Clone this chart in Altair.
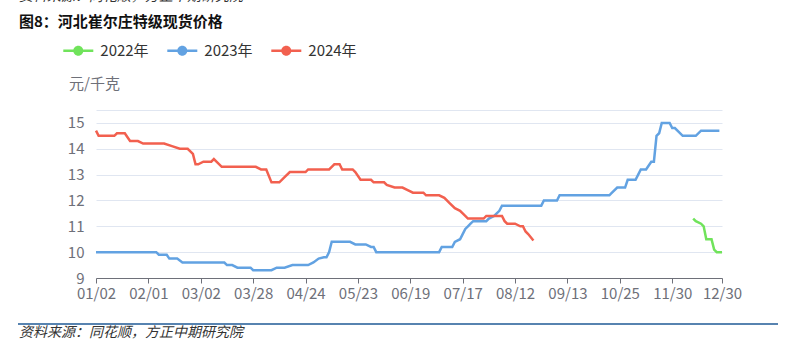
import altair as alt
import pandas as pd

font = "Noto Sans CJK SC"
axis_color = "#6E7079"

title_text = "图8：河北崔尔庄特级现货价格"
source_text = "资料来源：同花顺，方正中期研究院"
unit_text = "元/千克"

series_names = ["2022年", "2023年", "2024年"]
series_colors = ["#70E35B", "#62A2E2", "#F2604F"]

x_labels = ["01/02", "02/01", "03/02", "03/28", "04/24", "05/23", "06/19",
            "07/17", "08/12", "09/13", "10/25", "11/30", "12/30"]
x_label_pos = [0, 20, 40, 60, 80, 100, 120, 140, 160, 180, 200, 220, 239]
y_ticks = [9, 10, 11, 12, 13, 14, 15]
y_min, y_max = 9, 15.5

# [trading-day index, price]
s2022 = [[228, 11.3], [229, 11.2], [231, 11.1], [232, 11.0], [233, 10.5],
         [235, 10.5], [236, 10.1], [237, 10.0], [239, 10.0]]

s2023 = [[0, 10.0], [23, 10.0], [24, 9.9], [27, 9.9], [28, 9.75], [31, 9.75],
         [33, 9.6], [49, 9.6], [50, 9.5], [52, 9.5], [54, 9.4], [59, 9.4],
         [60, 9.3], [67, 9.3], [69, 9.4], [72, 9.4], [75, 9.5], [81, 9.5],
         [83, 9.6], [85, 9.75], [87, 9.8], [88, 9.8], [89, 10.0], [90, 10.4],
         [97, 10.4], [99, 10.3], [103, 10.3], [105, 10.2], [106, 10.2],
         [107, 10.0], [131, 10.0], [132, 10.2], [136, 10.2], [137, 10.4],
         [139, 10.5], [140, 10.7], [141, 10.9], [142, 11.0], [143, 11.1],
         [144, 11.2], [149, 11.2], [150, 11.3], [152, 11.4], [153, 11.5],
         [154, 11.6], [155, 11.8], [170, 11.8], [171, 12.0], [176, 12.0],
         [177, 12.2], [196, 12.2], [197, 12.3], [199, 12.5], [202, 12.5],
         [203, 12.8], [206, 12.8], [207, 13.0], [208, 13.2], [210, 13.2],
         [212, 13.5], [213, 13.5], [214, 14.5], [215, 14.6], [216, 15.0],
         [219, 15.0], [220, 14.8], [221, 14.8], [224, 14.5], [229, 14.5],
         [231, 14.7], [238, 14.7]]

s2024 = [[0, 14.7], [1, 14.5], [7, 14.5], [8, 14.6], [11, 14.6], [13, 14.3],
         [16, 14.3], [18, 14.2], [26, 14.2], [29, 14.1], [32, 14.0], [35, 14.0],
         [37, 13.8], [38, 13.4], [39, 13.4], [41, 13.5], [44, 13.5], [45, 13.6],
         [46, 13.5], [48, 13.3], [61, 13.3], [63, 13.2], [65, 13.2], [67, 12.7],
         [70, 12.7], [72, 12.9], [74, 13.1], [80, 13.1], [81, 13.2], [89, 13.2],
         [90, 13.3], [91, 13.4], [93, 13.4], [94, 13.2], [98, 13.2], [99, 13.1],
         [101, 12.8], [105, 12.8], [106, 12.7], [110, 12.7], [111, 12.6],
         [114, 12.5], [117, 12.5], [119, 12.4], [121, 12.3], [125, 12.3],
         [126, 12.2], [131, 12.2], [133, 12.1], [135, 11.9], [137, 11.7],
         [139, 11.6], [140, 11.5], [142, 11.3], [148, 11.3], [149, 11.4],
         [155, 11.4], [156, 11.2], [157, 11.1], [160, 11.1], [162, 11.0],
         [163, 11.0], [164, 10.8], [165, 10.7], [167, 10.45]]

rows = []
for name, pts in zip(series_names, [s2022, s2023, s2024]):
    for i, v in pts:
        rows.append({"series": name, "idx": i, "price": v})
df = pd.DataFrame(rows)

label_expr = ("[" + ",".join("'%s'" % l for l in x_labels) + "]"
              + "[indexof(" + str(x_label_pos) + ", datum.value)]")

color_scale = alt.Scale(domain=series_names, range=series_colors)

x_enc = alt.X("idx:Q",
              scale=alt.Scale(domain=[0, 239], nice=False, zero=False),
              axis=alt.Axis(values=x_label_pos, labelExpr=label_expr, title=None,
                            grid=False, ticks=True, tickSize=5, tickColor=axis_color,
                            domainColor=axis_color, labelColor=axis_color,
                            labelFontSize=15, labelPadding=3, labelFont=font,
                            labelFlush=False, labelOverlap=False, zindex=1))
y_enc = alt.Y("price:Q",
              scale=alt.Scale(domain=[y_min, y_max], nice=False, zero=False),
              axis=alt.Axis(values=y_ticks + [y_max],
                            labelExpr="datum.value > 15 ? '' : datum.label",
                            title=None, grid=True, gridColor="#E0E6F1",
                            domain=False, ticks=False, tickSize=0, labelPadding=12,
                            labelFontSize=15, labelColor=axis_color, labelFont=font))

sym_path = ("M-1.5,-0.12 L-0.47,-0.12 L-0.47,0.12 L-1.5,0.12 Z "
            "M0.47,-0.12 L1.5,-0.12 L1.5,0.12 L0.47,0.12 Z "
            "M0.5,0 A0.5,0.5 0 1,1 -0.5,0 A0.5,0.5 0 1,1 0.5,0 Z")

legend_layer = alt.Chart(df).transform_filter("false").mark_point(
    filled=True, opacity=1).encode(
    x=x_enc, y=y_enc,
    color=alt.Color("series:N", scale=color_scale,
                    legend=alt.Legend(title=None, orient="none", legendX=-27.7,
                                      legendY=-69.3, direction="horizontal",
                                      symbolType=sym_path, symbolSize=400,
                                      symbolStrokeWidth=0, symbolOpacity=1,
                                      labelFontSize=15, labelColor="#333333",
                                      labelFont=font, labelOffset=12,
                                      columnPadding=18)))

lines = alt.Chart(df).mark_line(strokeWidth=2.5).encode(
    x=x_enc, y=y_enc,
    color=alt.Color("series:N", scale=color_scale, legend=None),
    order=alt.Order("idx:Q"))


def text_layer(text, x, y, size, weight="normal", color="#000000", style="normal"):
    return alt.Chart(pd.DataFrame({"t": [text]})).mark_text(
        align="left", baseline="middle", fontSize=size, fontWeight=weight,
        color=color, font=font, fontStyle=style).encode(
        text="t:N", x=alt.value(x), y=alt.value(y))


top_cut = text_layer(source_text, -77, -113, 14, color="#333333", style="italic")
title = text_layer(title_text, -77, -88.5, 15, weight="bold", color="#111111")
unit = text_layer(unit_text, -27, -26, 15, color=axis_color)
footer = text_layer(source_text, -77, 223, 14, color="#333333", style="italic")
footer_rule = alt.Chart(pd.DataFrame({"a": [0]})).mark_rule(
    color="#1F5A96", strokeWidth=1.5).encode(
    x=alt.value(-78), x2=alt.value(682), y=alt.value(214))

chart = alt.layer(legend_layer, lines, top_cut, title, unit, footer, footer_rule).properties(
    width=626, height=168,
    padding={"left": 96, "top": 110, "right": 67, "bottom": 77},
    autosize="none", background="white"
).configure_view(stroke=None)

chart.save("out.html", embed_options={"renderer": "svg", "actions": False})
